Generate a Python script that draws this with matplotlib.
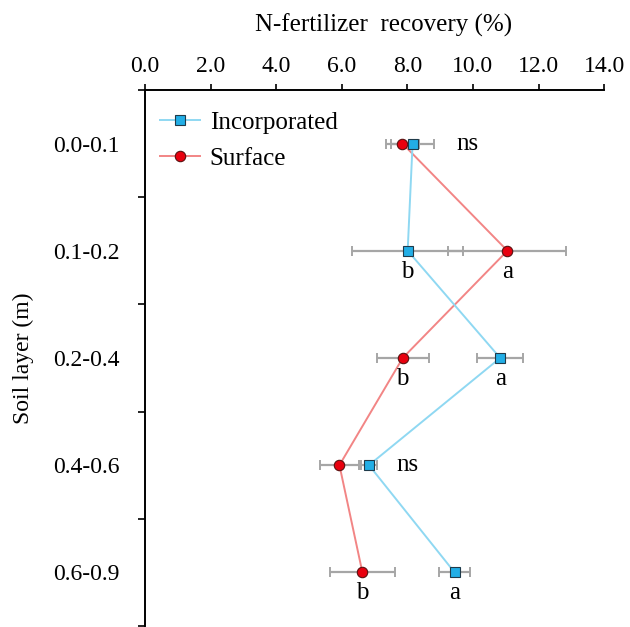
import numpy as np
import matplotlib
matplotlib.use("Agg")
import matplotlib.pyplot as plt

plt.rcParams["font.family"] = ["Liberation Serif", "DejaVu Serif"]

# data
layers = ["0.0-0.1", "0.1-0.2", "0.2-0.4", "0.4-0.6", "0.6-0.9"]
inc_vals = [8.16, 8.01, 10.83, 6.83, 9.44]
inc_err = [0.65, 1.69, 0.70, 0.23, 0.48]
surf_vals = [7.85, 11.05, 7.86, 5.93, 6.63]
surf_err = [0.50, 1.80, 0.80, 0.60, 1.00]
inc_letters = ["", "b", "a", "", "a"]
surf_letters = ["", "a", "b", "", "b"]
ns_rows = [0, 3]
ns_x = [9.82, 8.0]
xticks = [0, 2, 4, 6, 8, 10, 12, 14]

inc_line = "#8fd8f2"
inc_face = "#22aee6"
surf_line = "#f28585"
surf_face = "#e8000e"
err_col = "#a6a6a6"
fs = 17
fs_big = 18

fig = plt.figure(figsize=(6.3, 6.27), dpi=100)
ax = fig.add_axes([0.230, 0.0016, 0.729, 0.855])

y = np.arange(len(layers))

# error bars
ax.errorbar(surf_vals, y, xerr=surf_err, fmt="none", ecolor=err_col,
            elinewidth=1.6, capsize=3.5, capthick=1.4, zorder=2)
ax.errorbar(inc_vals, y, xerr=inc_err, fmt="none", ecolor=err_col,
            elinewidth=1.6, capsize=3.5, capthick=1.4, zorder=2)

# series
ax.plot(surf_vals, y, color=surf_line, lw=1.4, marker="o", ms=7.5,
        mfc=surf_face, mec="#5a1010", mew=0.8, label="Surface", zorder=3)
ax.plot(inc_vals, y, color=inc_line, lw=1.4, marker="s", ms=7,
        mfc=inc_face, mec="#1f3a4a", mew=0.8, label="Incorporated", zorder=4)

# significance letters
for i in range(len(layers)):
    if inc_letters[i]:
        ax.annotate(inc_letters[i], (inc_vals[i], y[i]), xytext=(0, -15),
                    textcoords="offset points", ha="center", va="center", fontsize=fs_big)
    if surf_letters[i]:
        ax.annotate(surf_letters[i], (surf_vals[i], y[i]), xytext=(0, -15),
                    textcoords="offset points", ha="center", va="center", fontsize=fs_big)
for r, xx in zip(ns_rows, ns_x):
    ax.text(xx, y[r], "ns", ha="center", va="center", fontsize=fs_big)

ax.set_xlim(0, 14)
ax.set_ylim(len(layers) - 0.5, -0.5)

ax.xaxis.tick_top()
ax.xaxis.set_label_position("top")
ax.set_xticks(xticks)
ax.set_xticklabels([f"{v:.1f}" for v in xticks], fontsize=fs)
ax.tick_params(axis="x", direction="out", length=4, width=1.2, pad=5, color="black")
ax.set_xlabel("N-fertilizer  recovery (%)", fontsize=fs_big, labelpad=18, x=0.52)

ax.set_yticks(np.arange(-0.5, len(layers) + 0.5, 1.0))
ax.set_yticklabels([])
ax.set_yticks(y, minor=True)
ax.set_yticklabels(layers, minor=True, fontsize=fs)
ax.tick_params(axis="y", which="major", direction="out", length=5, width=1.2)
ax.tick_params(axis="y", which="minor", length=0, pad=18)
ax.set_ylabel("Soil layer (m)", fontsize=fs, labelpad=14)

for side in ["right", "bottom"]:
    ax.spines[side].set_visible(False)
for side in ["left", "top"]:
    ax.spines[side].set_linewidth(1.4)

h, l = ax.get_legend_handles_labels()
ax.legend(h[::-1], l[::-1], loc="upper left", bbox_to_anchor=(0.032, 0.96),
          frameon=False, fontsize=fs_big, handlelength=1.6, handletextpad=0.4,
          labelspacing=0.55, borderpad=0, borderaxespad=0)

fig.savefig("out.png", dpi=100)
